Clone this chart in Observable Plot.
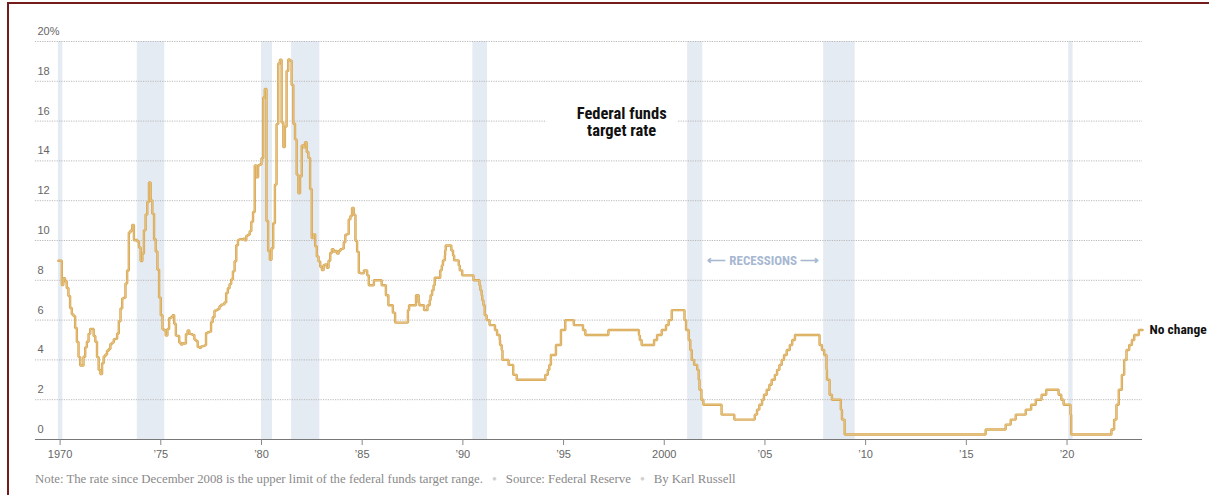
<!DOCTYPE html>
<html><head><meta charset="utf-8">
<script src="https://cdn.jsdelivr.net/npm/d3@7"></script>
<script src="https://cdn.jsdelivr.net/npm/@observablehq/plot@0.6"></script>
<style>
html,body{margin:0;padding:0;background:#fff;}
#wrap{position:relative;width:1209px;height:495px;overflow:hidden;background:#fff;}
#frame{position:absolute;left:7px;top:2px;right:-4px;bottom:-4px;border-top:2px solid #741b1b;border-left:2px solid #741b1b;}
#chart{position:absolute;left:0;top:0;}
#note{position:absolute;left:35px;top:472px;font:12.8px "Liberation Serif","DejaVu Serif",serif;color:#8a8a8a;white-space:nowrap;}
#note .sep{color:#d0d0d0;font-size:8px;margin:0 9px;vertical-align:2px;}
</style></head>
<body>
<div id="wrap"><div id="frame"></div><div id="chart"></div>
<div id="note">Note: The rate since December 2008 is the upper limit of the federal funds target range.<span class="sep">●</span>Source: Federal Reserve<span class="sep">●</span>By Karl Russell</div>
</div>
<script>
// ---- Data ----
// Monthly rates (1970–1984), one value per month starting at monthlyStart
const monthlyStart = "1969-12";
const monthlyRates = [
  8.98,
  8.98, 7.76, 8.10, 7.95, 7.61, 7.21, 6.61, 6.29, 6.20, 5.60, 4.90, 4.14,   // 1970
  3.72, 3.71, 4.16, 4.63, 4.91, 5.31, 5.56, 5.55, 5.20, 4.91, 4.14, 3.50,   // 1971
  3.29, 3.83, 4.17, 4.27, 4.46, 4.55, 4.80, 4.87, 5.04, 5.06, 5.33, 5.94,   // 1972
  6.58, 7.09, 7.12, 7.84, 8.49, 10.40, 10.50, 10.78, 10.01, 10.03, 9.95, 9.65, // 1973
  8.97, 9.35, 10.51, 11.31, 11.93, 12.92, 12.01, 11.34, 10.06, 9.45, 8.53, 7.13, // 1974
  6.24, 5.54, 5.49, 5.22, 5.55, 6.10, 6.14, 6.24, 5.82, 5.22, 5.20, 4.87,   // 1975
  4.77, 4.84, 4.82, 5.29, 5.48, 5.31, 5.29, 5.25, 5.02, 4.95, 4.65, 4.61,   // 1976
  4.68, 4.69, 4.73, 5.35, 5.39, 5.42, 5.90, 6.14, 6.47, 6.51, 6.56, 6.70,   // 1977
  6.78, 6.79, 6.89, 7.36, 7.60, 7.81, 8.04, 8.45, 8.96, 9.76, 10.03, 10.07, // 1978
  10.06, 10.09, 10.01, 10.24, 10.29, 10.47, 10.94, 11.43, 13.77, 13.18, 13.78, 13.82, // 1979
  14.13, 17.19, 17.61, 10.98, 9.47, 9.03, 9.61, 10.87, 12.81, 15.85, 18.90, 19.08, // 1980
  15.93, 14.70, 15.72, 18.52, 19.10, 19.04, 17.82, 15.87, 15.08, 13.31, 12.37, 13.22, // 1981
  14.78, 14.68, 14.94, 14.45, 14.15, 12.59, 10.12, 10.31, 9.71, 9.20, 8.95, 8.68, // 1982
  8.51, 8.77, 8.80, 8.63, 8.98, 9.37, 9.56, 9.45, 9.48, 9.34, 9.47, 9.56,   // 1983
  9.59, 9.91, 10.29, 10.32, 11.06, 11.23, 11.64, 11.30, 9.99, 9.43, 8.38, 8.35 // 1984
];
// Target changes [date, rate]
const era1980s = [["1985-02-01",8.5],["1985-04-01",8.25],["1985-05-01",7.75],["1985-08-01",8.0],["1985-12-20",7.75],["1986-03-07",7.25],["1986-04-21",6.75],["1986-07-11",6.375],["1986-08-21",5.875],["1987-04-10",6.5],["1987-05-01",6.75],["1987-09-04",7.25],["1987-10-22",6.875],["1987-11-04",6.75],["1988-01-28",6.5],["1988-03-30",6.75],["1988-05-09",7.0],["1988-05-25",7.25],["1988-06-22",7.5],["1988-07-19",7.75],["1988-08-09",8.125],["1988-11-17",8.5],["1988-12-15",8.75],["1989-01-05",9.0],["1989-02-09",9.25],["1989-02-14",9.5],["1989-02-24",9.75],["1989-06-06",9.5],["1989-07-07",9.25],["1989-07-27",9.0],["1989-10-18",8.75],["1989-11-06",8.5],["1989-12-20",8.25]];
const era1990s = [["1990-07-13",8.0],["1990-10-29",7.75],["1990-11-14",7.5],["1990-12-07",7.25],["1990-12-19",7.0],["1991-01-09",6.75],["1991-02-01",6.25],["1991-03-08",6.0],["1991-04-30",5.75],["1991-08-06",5.5],["1991-09-13",5.25],["1991-10-31",5.0],["1991-11-06",4.75],["1991-12-06",4.5],["1991-12-20",4.0],["1992-04-09",3.75],["1992-07-02",3.25],["1992-09-04",3.0],["1994-02-04",3.25],["1994-03-22",3.5],["1994-04-18",3.75],["1994-05-17",4.25],["1994-08-16",4.75],["1994-11-15",5.5],["1995-02-01",6.0],["1995-07-06",5.75],["1995-12-19",5.5],["1996-01-31",5.25],["1997-03-25",5.5],["1998-09-29",5.25],["1998-10-15",5.0],["1998-11-17",4.75],["1999-06-30",5.0],["1999-08-24",5.25],["1999-11-16",5.5]];
const era2000s = [["2000-02-02",5.75],["2000-03-21",6.0],["2000-05-16",6.5],["2001-01-03",6.0],["2001-01-31",5.5],["2001-03-20",5.0],["2001-04-18",4.5],["2001-05-15",4.0],["2001-06-27",3.75],["2001-08-21",3.5],["2001-09-17",3.0],["2001-10-02",2.5],["2001-11-06",2.0],["2001-12-11",1.75],["2002-11-06",1.25],["2003-06-25",1.0],["2004-06-30",1.25],["2004-08-10",1.5],["2004-09-21",1.75],["2004-11-10",2.0],["2004-12-14",2.25],["2005-02-02",2.5],["2005-03-22",2.75],["2005-05-03",3.0],["2005-06-30",3.25],["2005-08-09",3.5],["2005-09-20",3.75],["2005-11-01",4.0],["2005-12-13",4.25],["2006-01-31",4.5],["2006-03-28",4.75],["2006-05-10",5.0],["2006-06-29",5.25],["2007-09-18",4.75],["2007-10-31",4.5],["2007-12-11",4.25],["2008-01-22",3.5],["2008-01-30",3.0],["2008-03-18",2.25],["2008-04-30",2.0],["2008-10-08",1.5],["2008-10-29",1.0],["2008-12-16",0.25]];
const era2010s = [["2015-12-17",0.5],["2016-12-15",0.75],["2017-03-16",1.0],["2017-06-15",1.25],["2017-12-14",1.5],["2018-03-22",1.75],["2018-06-14",2.0],["2018-09-27",2.25],["2018-12-20",2.5],["2019-08-01",2.25],["2019-09-19",2.0],["2019-10-31",1.75]];
const era2020s = [["2020-03-04",1.25],["2020-03-16",0.25],["2022-03-17",0.5],["2022-05-05",1.0],["2022-06-16",1.75],["2022-07-28",2.5],["2022-09-22",3.25],["2022-11-03",4.0],["2022-12-15",4.5],["2023-02-02",4.75],["2023-03-23",5.0],["2023-05-04",5.25],["2023-07-27",5.5],["2023-10-01",5.5]];

const recessionStarts = ["1969-12-01","1973-11-01","1980-01-01","1981-07-01","1990-07-01","2001-03-01","2007-12-01","2020-02-01"];
const recessionEnds   = ["1970-02-20","1975-03-15","1980-07-20","1982-11-25","1991-03-25","2001-12-01","2009-06-25","2020-04-20"];

const yTicks = [0, 2, 4, 6, 8, 10, 12, 14, 16, 18, 20];
const yTickLabels = ["0","2","4","6","8","10","12","14","16","18","20%"];
const xTicks = [1970, 1975, 1980, 1985, 1990, 1995, 2000, 2005, 2010, 2015, 2020];
const xTickLabels = ["1970","’75","’80","’85","’90","’95","2000","’05","’10","’15","’20"];
const xDomain = ["1968-10-12", "2023-10-01"];

const titleText = "Federal funds\ntarget rate";
const titleAt = {date: "1997-11-20", rate: 15.97};
const titleBox = {x1: "1994-03-01", x2: "2000-09-15", y1: 15.4, y2: 16.6};
const recessionLabelAt = {date: "2004-12-01", rate: 9.0};
const endLabel = "No change";

// ---- Helpers ----
function toYear(s) {
  const [y, m, d] = s.split("-").map(Number);
  const t = Date.UTC(y, (m || 1) - 1, d || 1);
  const a = Date.UTC(y, 0, 1), b = Date.UTC(y + 1, 0, 1);
  return y + (t - a) / (b - a);
}
const [sy, sm] = monthlyStart.split("-").map(Number);
const series = [];
monthlyRates.forEach((r, i) => {
  const mm = sm - 1 + i;
  const y = sy + Math.floor(mm / 12), m = (mm % 12) + 1;
  series.push({year: toYear(`${y}-${String(m).padStart(2, "0")}`), rate: r});
});
for (const era of [era1980s, era1990s, era2000s, era2010s, era2020s])
  for (const [d, r] of era) series.push({year: toYear(d), rate: r});
const recessions = recessionStarts.map((s, i) => ({start: toYear(s), end: toYear(recessionEnds[i])}));
const last = series[series.length - 1];

const sans = "'Liberation Sans', Arial, sans-serif";
const narrow = "'Liberation Sans Narrow', 'Roboto Condensed', 'Liberation Sans', Arial, sans-serif";

const chart = Plot.plot({
  width: 1209, height: 465,
  marginLeft: 35, marginRight: 67, marginTop: 41, marginBottom: 26,
  x: {domain: xDomain.map(toYear), axis: null},
  y: {domain: [0, 20], axis: null},
  style: {fontFamily: sans, fontSize: "11px", color: "#666", background: "transparent", overflow: "visible"},
  marks: [
    Plot.rect(recessions, {x1: "start", x2: "end", y1: 0, y2: 20, fill: "#e5ebf3"}),
    Plot.ruleY(yTicks.filter(d => d > 0), {stroke: "#b9b9b9", strokeWidth: 1, strokeDasharray: "1.2,1.2"}),
    Plot.rect([titleBox], {x1: d => toYear(d.x1), x2: d => toYear(d.x2), y1: "y1", y2: "y2", fill: "#fff"}),
    Plot.ruleY([0], {stroke: "#777", strokeWidth: 1}),
    Plot.axisX({ticks: xTicks, tickFormat: d => xTickLabels[xTicks.indexOf(d)], tickSize: 6, tickPadding: 5, fontSize: 11, stroke: "#888", fill: "#666"}),
    Plot.text(yTicks, {y: d => d, text: (d, i) => yTickLabels[i], frameAnchor: "left", textAnchor: "start", dx: 2, dy: -10, fill: "#666", fontSize: 11}),
    Plot.line(series, {x: "year", y: "rate", curve: "step-after", stroke: "#d7a54e", strokeWidth: 2.4, strokeLinejoin: "miter"}),
    Plot.line(series, {x: "year", y: "rate", curve: "step-after", stroke: "#ecd09a", strokeWidth: 0.7}),
    Plot.text([titleAt], {x: d => toYear(d.date), y: "rate", text: () => titleText, fontSize: 16.5, fontWeight: "bold", fill: "#111", fontFamily: narrow, lineHeight: 1.05, lineAnchor: "middle", textAnchor: "middle"}),
    Plot.text([recessionLabelAt], {x: d => toYear(d.date), y: "rate", text: () => "⟵ RECESSIONS ⟶", fontSize: 13, fontWeight: "bold", fill: "#a7b8d2", fontFamily: narrow, textAnchor: "middle"}),
    Plot.text([last], {x: "year", y: "rate", text: () => endLabel, dx: 7, textAnchor: "start", fontSize: 13.5, fontWeight: "bold", fill: "#111", fontFamily: narrow})
  ]
});
document.getElementById("chart").append(chart);
</script>
</body></html>
